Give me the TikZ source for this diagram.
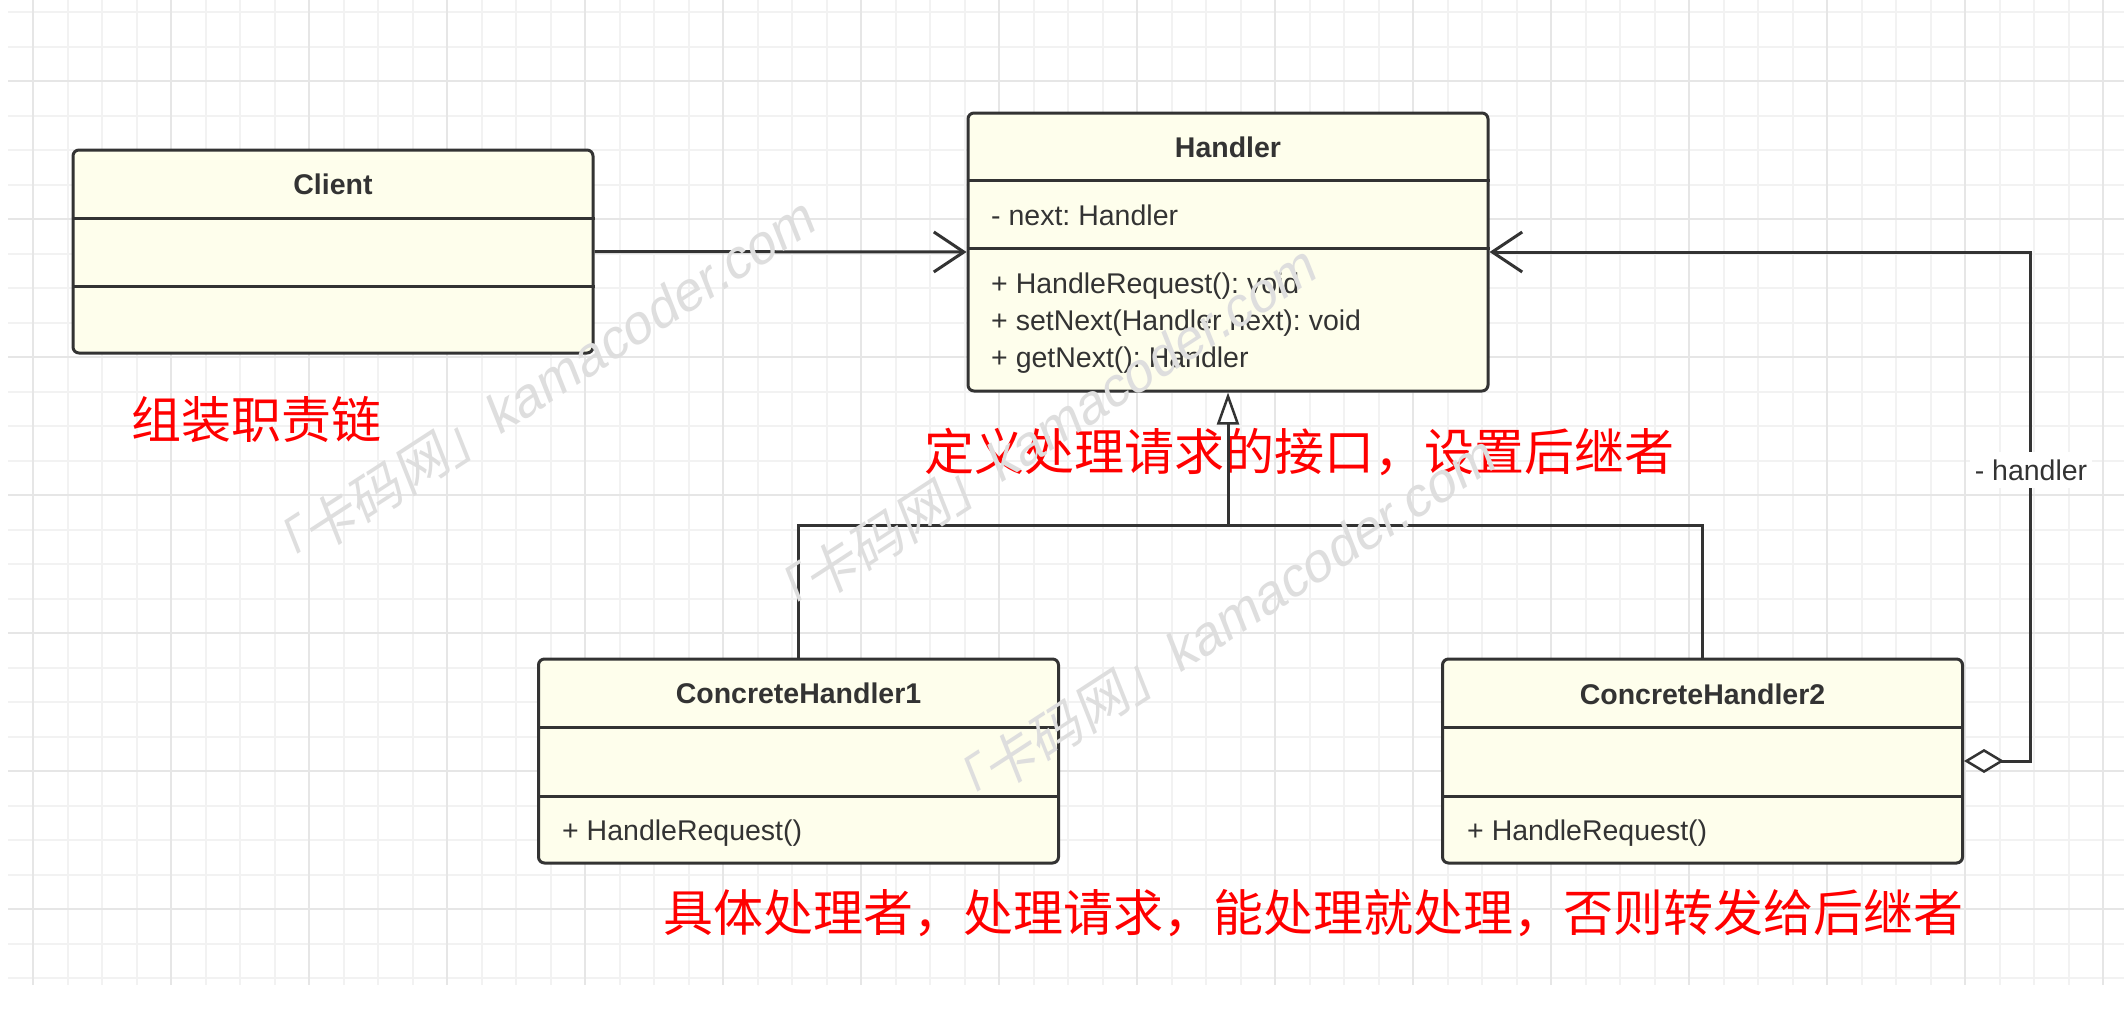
\documentclass[tikz,border=0pt]{standalone}
\usepackage{fontspec}
\setmainfont{Liberation Sans}
\newfontfamily\cjk{Noto Sans CJK SC}
\newfontfamily\wmcjk[FakeSlant=0.2]{Noto Sans CJK SC}
\newfontfamily\wmlat[FakeSlant=0.2]{Liberation Sans}
\usetikzlibrary{arrows.meta}
\definecolor{boxfill}{RGB}{254,254,236}
\definecolor{ink}{RGB}{51,51,51}
\definecolor{gridmin}{RGB}{242,242,242}
\definecolor{gridmaj}{RGB}{230,230,230}
\definecolor{wmgray}{RGB}{222,222,222}
\definecolor{redtxt}{RGB}{255,0,0}
\frenchspacing
\begin{document}
\frenchspacing
\begin{tikzpicture}[x=1pt,y=-1pt,
  gridminor/.style={draw=gridmin, line width=2pt},
  gridmajor/.style={draw=gridmaj, line width=2.5pt},
  cls/.style={draw=ink, fill=boxfill, line width=3pt, rounded corners=6pt,
              minimum width=520pt, inner sep=0pt},
  divider/.style={draw=ink, line width=3pt},
  uml/.style={text=ink, inner sep=0pt, font=\fontsize{28.5}{34}\selectfont},
  title/.style={uml, font=\fontsize{28.5}{34}\selectfont\bfseries},
  conn/.style={draw=ink, line width=3pt},
  note/.style={text=redtxt, inner sep=0pt, anchor=west, font=\cjk\fontsize{50}{56}\selectfont},
  wm/.style={text=wmgray, inner sep=0pt, anchor=base west, rotate=33},
  openhead/.style={-{Straight Barb[length=30pt,width=40pt,line width=3pt]}},
]
% background and bounding box
\fill[white] (0,0) rectangle (2124,1026);
\useasboundingbox (0,0) rectangle (2124,1026);
% grid
\foreach \k in {0,...,60} \draw[gridminor] ({33+34.5*\k},0) -- ({33+34.5*\k},985);
\foreach \k in {0,...,28} \draw[gridminor] (8,{12+34.5*\k}) -- (2124,{12+34.5*\k});
\foreach \k in {0,4,...,60} \draw[gridmajor] ({33+34.5*\k},0) -- ({33+34.5*\k},985);
\foreach \k in {2,6,...,26} \draw[gridmajor] (8,{12+34.5*\k}) -- (2124,{12+34.5*\k});

% red notes
\node[note] (n1) at (131,420) {组装职责链};
\node[note] (n2) at (924,452) {定义处理请求的接口，设置后继者};
\node[note] (n3) at (663,913) {具体处理者，处理请求，能处理就处理，否则转发给后继者};

% class boxes
\node[cls, minimum height=203pt] (client) at (333,251.5) {};
\node[cls, minimum height=278pt] (handler) at (1228,252) {};
\node[cls, minimum height=204pt] (ch1) at (798.5,761) {};
\node[cls, minimum height=204pt] (ch2) at (1702.5,761) {};

% dividers
\draw[divider] (client.west |- 0,218) -- (client.east |- 0,218);
\draw[divider] (client.west |- 0,286) -- (client.east |- 0,286);
\draw[divider] (handler.west |- 0,180) -- (handler.east |- 0,180);
\draw[divider] (handler.west |- 0,248) -- (handler.east |- 0,248);
\draw[divider] (ch1.west |- 0,727) -- (ch1.east |- 0,727);
\draw[divider] (ch1.west |- 0,796) -- (ch1.east |- 0,796);
\draw[divider] (ch2.west |- 0,727) -- (ch2.east |- 0,727);
\draw[divider] (ch2.west |- 0,796) -- (ch2.east |- 0,796);

% texts
\node[title, anchor=base] (clientT) at (333,194) {Client};
\node[title, anchor=base] (handlerT) at (1228,157) {Handler};
\node[uml, anchor=base west] (hattr) at (991,225) {- next: Handler};
\node[uml, anchor=base west] (hm1) at (991,293) {+ HandleRequest(): void};
\node[uml, anchor=base west] (hm2) at (991,330) {+ setNext(Handler next): void};
\node[uml, anchor=base west] (hm3) at (991,367) {+ getNext(): Handler};
\node[title, anchor=base] (ch1T) at (798.5,703) {ConcreteHandler1};
\node[uml, anchor=base west] (ch1m) at (562,840) {+ HandleRequest()};
\node[title, anchor=base] (ch2T) at (1702.5,704) {ConcreteHandler2};
\node[uml, anchor=base west] (ch2m) at (1467,840) {+ HandleRequest()};

% connectors
\draw[conn, openhead] (client.east) -- (handler.west);
\coordinate (gjoin) at (1228,525);
\draw[conn] (ch1.north) |- (gjoin) -| (ch2.north);
\draw[conn, -{Triangle[length=32pt,width=22pt,fill=white,line width=2.5pt]}] (gjoin) -- (handler.south);
\coordinate (hturn) at (2030,761);
\draw[conn, {Diamond[length=40pt,width=24pt,fill=white,line width=2.5pt]}-{Straight Barb[length=30pt,width=40pt,line width=3pt]}]
  (ch2.east) -- (hturn) |- (handler.east);
\node[uml, fill=white, inner xsep=5pt, inner ysep=8pt] (hlabel) at (2031,470) {- handler};

% watermarks
\node[wm] (wm1) at (272,584) {\wmcjk\fontsize{54}{60}\selectfont 「卡码网」\wmlat kamacoder.com};
\node[wm] (wm2) at (773,632) {\wmcjk\fontsize{54}{60}\selectfont 「卡码网」\wmlat kamacoder.com};
\node[wm] (wm3) at (952,822) {\wmcjk\fontsize{54}{60}\selectfont 「卡码网」\wmlat kamacoder.com};
\end{tikzpicture}
\end{document}
